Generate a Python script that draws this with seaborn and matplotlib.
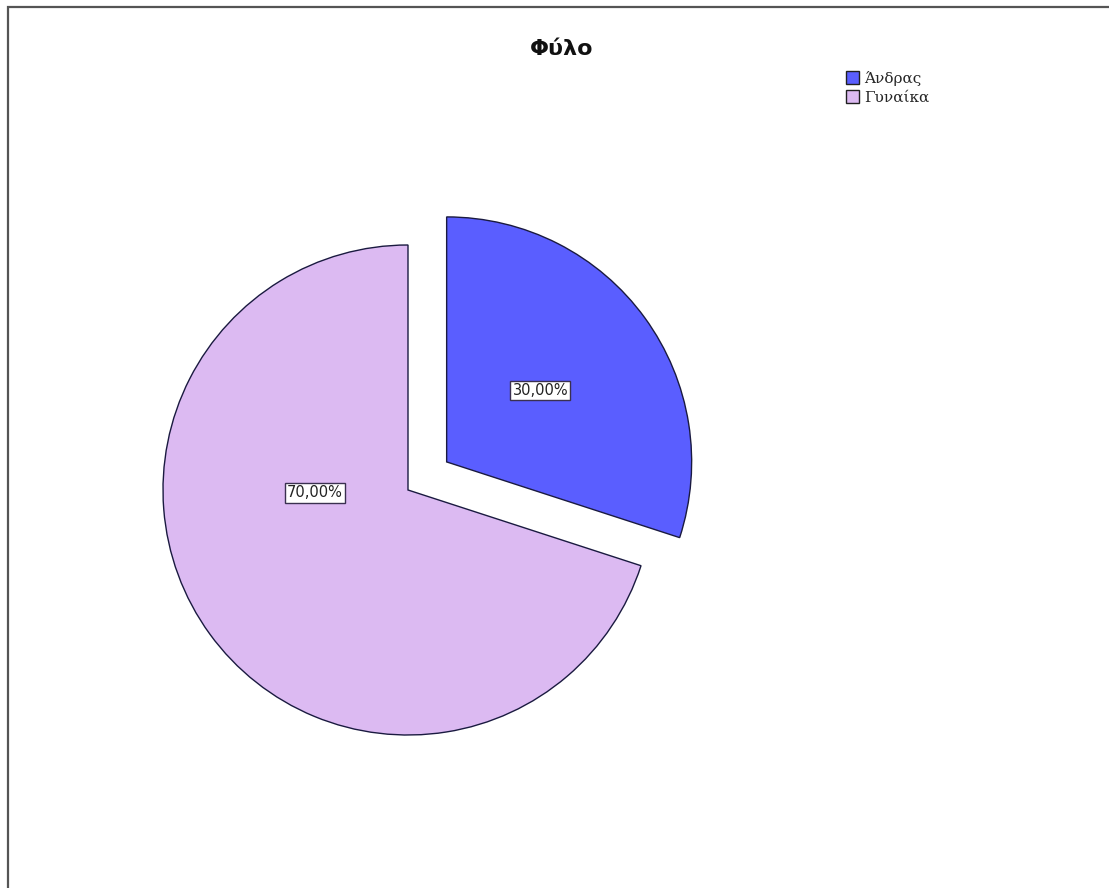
import matplotlib
matplotlib.use("Agg")
import matplotlib.pyplot as plt
from matplotlib.patches import Rectangle, Patch
import seaborn as sns

sns.set_style("white")
plt.rcParams['font.family'] = ['DejaVu Sans']

# Data
categories = ["Άνδρας", "Γυναίκα"]
percentages = [30.0, 70.0]
slice_colors = sns.color_palette(["#5a5eff", "#dcbaf2"])
title = "Φύλο"

fig = plt.figure(figsize=(11.09, 8.88), dpi=100)
W, H = 1109, 888

# Outer frame (top and left edges visible)
fig.patches.append(Rectangle((8 / W, -0.01), 1.02, (888 - 7) / H + 0.01,
                             transform=fig.transFigure, fill=False,
                             edgecolor="#555555", linewidth=1.6))

# Axes positioned so that the unit-radius pie sits at the right spot
R = 245.0
L = 1.3
cx, cy = 408.0, 888 - 490.0
size = 2 * L * R
ax = fig.add_axes([(cx - size / 2) / W, (cy - size / 2) / H, size / W, size / H])

wedges, texts, autotexts = ax.pie(
    percentages, colors=slice_colors, startangle=90, counterclock=False,
    explode=[0.195, 0.0], radius=1.0,
    wedgeprops=dict(edgecolor="#1a1a40", linewidth=1.0),
    autopct=lambda p: f"{p:.2f}".replace(".", ",") + "%",
    textprops=dict(fontsize=10.5, color="#222222"),
)
ax.set_xlim(-L, L)
ax.set_ylim(-L, L)
ax.set_aspect("equal")
ax.axis("off")

# Label placement inside each slice
label_pos = [(0.54, 0.405), (-0.38, -0.012)]
for t, pos in zip(autotexts, label_pos):
    t.set_position(pos)
    t.set_ha("center")
    t.set_va("center")
    t.set_bbox(dict(boxstyle="square,pad=0.15", facecolor="white",
                    edgecolor="#3a3050", linewidth=1.0))

fig.text(562 / W, 1 - 49 / H, title, ha="center", va="center",
         fontsize=16, fontweight="bold", color="#111111")

handles = [Patch(facecolor=c, edgecolor="#202020", linewidth=1.0) for c in slice_colors]
leg = fig.legend(handles, categories, loc="upper left",
                 bbox_to_anchor=(838 / W, 1 - 63 / H), frameon=False,
                 prop=dict(family="DejaVu Serif", size=11),
                 handlelength=0.9, handleheight=0.9, handletextpad=0.3,
                 labelspacing=0.3, borderpad=0.0)

fig.savefig("out.png", dpi=100, facecolor="white")
